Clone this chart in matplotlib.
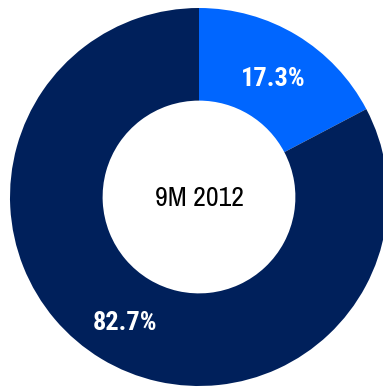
import matplotlib
matplotlib.use("Agg")
import matplotlib.pyplot as plt
import numpy as np

# Share of the total, 9M 2012
labels = ["Segment A", "Segment B"]
shares = [17.3, 82.7]
colors = ["#0066FF", "#00205B"]
center_label = "9M 2012"

LABEL_FONT = ["Roboto Condensed", "Liberation Sans", "DejaVu Sans"]
CENTER_FONT = ["Archivo Narrow", "Roboto Condensed", "Liberation Sans", "DejaVu Sans"]

W, H, DPI = 383, 389, 100
fig = plt.figure(figsize=(W / DPI, H / DPI), dpi=DPI)
ax = fig.add_axes([0, 0, 1, 1])

cx, cy, R = 199, 197, 189
ax.pie(
    shares,
    colors=colors,
    startangle=90,
    counterclock=False,
    radius=R,
    center=(0, 0),
    wedgeprops=dict(width=R * 0.49, linewidth=0),
)

# Percentage labels placed at the middle of each ring segment
start = 90.0
total = sum(shares)
for val in shares:
    sweep = 360.0 * val / total
    mid = np.deg2rad(start - sweep / 2)
    r = R * 0.755
    ax.text(r * np.cos(mid), r * np.sin(mid) - 4, f"{val:.1f}%",
            ha="center", va="center", color="white", fontsize=19,
            fontweight="bold", family=LABEL_FONT)
    start -= sweep

ax.text(0, -1, center_label, ha="center", va="center", color="black",
        fontsize=20, family=CENTER_FONT)

ax.set_xlim(-cx, W - cx)
ax.set_ylim(-(H - cy), cy)
ax.set_aspect("equal")
ax.axis("off")
fig.savefig("out.png", dpi=DPI, facecolor="white")
